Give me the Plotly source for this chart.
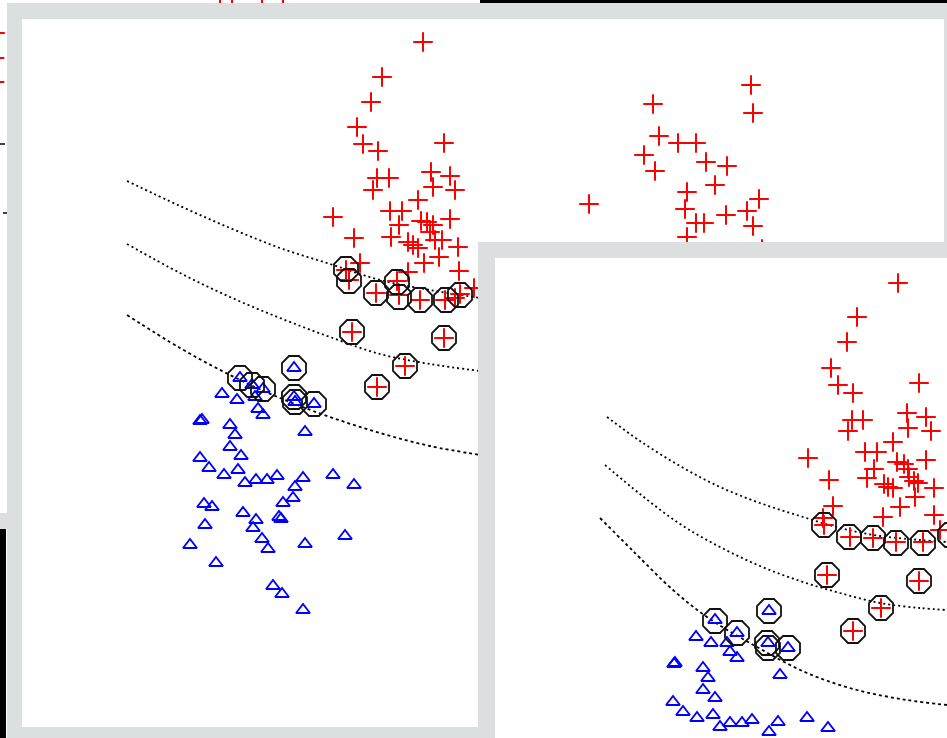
import plotly.graph_objects as go

W, H = 947, 738

# ---------------- data (feature space of each view) ----------------
# Main view (left)
a_pos_x = [4.01, 3.60, 3.49, 3.35, 3.41, 3.56, 4.22, 3.55, 3.67, 3.51, 4.09, 4.28, 4.11, 4.33,
           3.96, 3.11, 3.68, 3.80, 3.77, 3.69, 3.99, 4.05, 4.11, 4.28, 3.32, 3.86, 3.91, 3.96,
           4.08, 4.13, 4.20, 4.36, 4.17, 4.02, 4.37, 3.38, 3.86, 4.52,
           3.24, 3.27, 3.54, 3.75, 3.77, 3.98, 4.23, 4.38, 4.33, 3.30, 4.22, 3.83, 3.55]
a_pos_y = [6.85, 6.50, 6.25, 6.00, 5.83, 5.76, 5.84, 5.49, 5.49, 5.37, 5.55, 5.51, 5.40, 5.37,
           5.27, 5.10, 5.16, 5.16, 5.02, 4.90, 5.06, 5.05, 5.02, 5.08, 4.89, 4.85, 4.82, 4.79,
           4.95, 4.87, 4.87, 4.80, 4.70, 4.64, 4.56, 4.64, 4.55, 4.39,
           4.57, 4.47, 4.34, 4.46, 4.32, 4.27, 4.27, 4.33, 4.29, 3.95, 3.89, 3.61, 3.40]
a_neg_x = [2.18, 2.30, 2.41, 2.72, 2.72, 2.73, 2.92,
           2.00, 2.15, 2.33, 2.36, 2.41, 1.80, 1.78, 2.08, 2.13, 2.83, 2.08, 2.19, 1.78, 1.87,
           2.02, 2.16, 2.23, 2.34, 2.45, 2.55, 2.73, 2.81, 3.11, 3.32, 2.71, 2.61, 1.82, 1.90,
           2.21, 2.57, 2.59, 2.34, 2.31, 1.83, 2.40, 2.46, 1.68, 2.83, 3.23, 1.94, 2.51, 2.60, 2.81]
a_neg_y = [3.49, 3.42, 3.38, 3.59, 3.30, 3.25, 3.23,
           3.33, 3.27, 3.30, 3.18, 3.12, 3.07, 3.06, 3.02, 2.92, 2.95, 2.80, 2.71, 2.69, 2.59,
           2.52, 2.57, 2.44, 2.47, 2.47, 2.51, 2.40, 2.49, 2.52, 2.42, 2.29, 2.24, 2.23, 2.20,
           2.14, 2.10, 2.08, 2.07, 1.99, 2.02, 1.88, 1.78, 1.82, 1.83, 1.91, 1.64, 1.41, 1.33, 1.17]
a_sv_x = [3.24, 3.27, 3.54, 3.75, 3.77, 3.98, 4.24, 4.38, 3.30, 4.22, 3.83, 3.55,
          2.18, 2.30, 2.41, 2.72, 2.72, 2.73, 2.92]
a_sv_y = [4.58, 4.46, 4.34, 4.45, 4.30, 4.27, 4.27, 4.32, 3.95, 3.89, 3.61, 3.40,
          3.49, 3.42, 3.38, 3.59, 3.30, 3.25, 3.23]
a_curve_x = [1.05, 1.58, 2.08, 2.58, 3.08, 3.58, 4.08, 4.58]
a_margin_hi = [5.46, 5.21, 4.99, 4.79, 4.63, 4.47, 4.37, 4.29]
a_boundary = [4.83, 4.54, 4.30, 4.09, 3.90, 3.73, 3.63, 3.56]
a_margin_lo = [4.12, 3.79, 3.52, 3.29, 3.10, 2.94, 2.81, 2.72]

# Upper-right view
b_pos_x = [2.73, 2.75, 1.75, 1.81, 2.00, 2.18, 1.66, 1.77, 2.28, 2.49, 2.37, 2.09, 1.11,
           2.07, 2.81, 2.69, 2.75, 2.48, 2.18, 2.26, 2.09, 2.84]
b_pos_y = [1.57, 1.29, 1.38, 1.06, 0.99, 0.99, 0.87, 0.71, 0.80, 0.76, 0.57, 0.50, 0.38,
           0.33, 0.43, 0.31, 0.16, 0.27, 0.19, 0.19, 0.05, -0.07]

# Lower-right view
c_pos_x = [4.03, 3.62, 3.52, 3.36, 3.43, 3.58, 4.24, 3.57, 3.68, 3.53, 4.12, 4.31, 4.13, 4.36,
           3.98, 3.13, 3.70, 3.82, 3.79, 3.72, 4.02, 4.09, 4.13, 4.31, 3.34, 3.89, 3.93, 3.98,
           4.14, 4.19, 4.23, 4.39, 4.20, 4.05, 3.38, 3.88, 4.39, 3.28, 4.45,
           3.29, 3.55, 3.78, 4.01, 4.28, 3.32, 4.24, 3.86, 3.58]
c_pos_y = [4.55, 4.21, 3.96, 3.70, 3.53, 3.45, 3.55, 3.18, 3.18, 3.07, 3.25, 3.21, 3.10, 3.07,
           2.96, 2.80, 2.86, 2.86, 2.69, 2.60, 2.76, 2.74, 2.69, 2.78, 2.58, 2.54, 2.51, 2.50,
           2.61, 2.57, 2.55, 2.50, 2.41, 2.31, 2.32, 2.21, 2.23, 2.20, 2.08,
           2.13, 2.01, 2.00, 1.96, 1.96, 1.63, 1.57, 1.30, 1.07]
c_neg_x = [2.20, 2.01, 2.16, 2.32, 2.42, 2.35, 2.42, 2.73, 2.74, 2.93, 2.85, 1.80, 1.79, 2.08,
           2.13, 2.08, 2.20, 1.78, 1.88, 2.02, 2.18, 2.25, 2.35, 2.47, 2.57, 2.83, 2.74, 3.12, 3.33]
c_neg_y = [1.18, 1.01, 0.95, 0.95, 1.05, 0.86, 0.80, 0.95, 1.27, 0.90, 0.63, 0.75, 0.74, 0.70,
           0.60, 0.48, 0.40, 0.36, 0.26, 0.20, 0.23, 0.11, 0.15, 0.15, 0.18, 0.16, 0.06, 0.20, 0.10]
c_sv_x = [3.29, 3.54, 3.78, 4.01, 4.28, 4.55, 3.32, 4.24, 3.86, 3.58,
          2.20, 2.42, 2.74, 2.72, 2.73, 2.93]
c_sv_y = [2.13, 2.01, 2.00, 1.95, 1.95, 2.03, 1.63, 1.57, 1.30, 1.07,
          1.17, 1.05, 1.27, 0.95, 0.90, 0.90]
c_curve_x = [1.12, 1.45, 1.85, 2.25, 2.65, 3.05, 3.45, 3.85, 4.25, 4.52]
c_margin_hi = [3.21, 2.97, 2.72, 2.51, 2.35, 2.22, 2.10, 2.02, 1.98, 1.96]
c_boundary_x = [1.10, 1.45, 1.85, 2.25, 2.65, 3.05, 3.45, 3.85, 4.25, 4.52]
c_boundary = [2.73, 2.44, 2.14, 1.91, 1.72, 1.57, 1.45, 1.35, 1.30, 1.28]
c_lo_x = [1.05, 1.32, 1.45, 1.78, 2.12, 2.62, 3.12, 3.62, 4.12, 4.52]
c_margin_lo = [2.20, 1.93, 1.80, 1.48, 1.21, 0.91, 0.65, 0.48, 0.38, 0.33]

# Window behind the others (only thin edges show)
d_pos_x = [1.98, 2.10, 2.40, 2.61]
d_pos_y = [0.09, 0.08, 0.04, 0.08]
e_pos_x = [-0.05, -0.055, -0.055]
e_pos_y = [4.80, 4.55, 4.31]

FRAME = "#dcdfe0"
RED = "#ff0000"
BLUE = "#0000ff"


def fx(p):
    return p / W


def fy(p):
    return 1 - p / H


def rect(x0, y0, x1, y1, color):
    return dict(type="rect", xref="paper", yref="paper", layer="below",
                x0=fx(x0), x1=fx(x1), y0=fy(y1), y1=fy(y0),
                fillcolor=color, line=dict(width=0))


def hline(x0, x1, y, color="#000000"):
    return dict(type="line", xref="paper", yref="paper", layer="below",
                x0=fx(x0), x1=fx(x1), y0=fy(y), y1=fy(y),
                line=dict(color=color, width=1.5))


fig = go.Figure()


def pos(x, y, ax):
    fig.add_trace(go.Scatter(x=x, y=y, mode="markers", xaxis="x" + ax, yaxis="y" + ax,
                             marker=dict(symbol="cross-thin", size=14, color=RED,
                                         line=dict(color=RED, width=2)),
                             showlegend=False, hoverinfo="skip"))


def neg(x, y, ax):
    fig.add_trace(go.Scatter(x=x, y=y, mode="markers", xaxis="x" + ax, yaxis="y" + ax,
                             marker=dict(symbol="triangle-up-open", size=12, color=BLUE,
                                         line=dict(color=BLUE, width=1.9)),
                             showlegend=False, hoverinfo="skip"))


def sv(x, y, ax):
    fig.add_trace(go.Scatter(x=x, y=y, mode="markers", xaxis="x" + ax, yaxis="y" + ax,
                             marker=dict(symbol="octagon-open", size=26, color="#111111",
                                         line=dict(color="#111111", width=1.8)),
                             showlegend=False, hoverinfo="skip"))


def curve(x, y, ax, dash):
    fig.add_trace(go.Scatter(x=x, y=y, mode="lines", xaxis="x" + ax, yaxis="y" + ax,
                             line=dict(color="#000000", width=1.8, dash=dash, shape="spline"),
                             showlegend=False, hoverinfo="skip"))


# main view
curve(a_curve_x, a_margin_hi, "", "2px,3px")
curve(a_curve_x, a_boundary, "", "2px,3px")
curve(a_curve_x, a_margin_lo, "", "3px,3px")
neg(a_neg_x, a_neg_y, "")
pos(a_pos_x, a_pos_y, "")
sv(a_sv_x, a_sv_y, "")

# upper-right view
pos(b_pos_x, b_pos_y, "2")

# lower-right view
curve(c_curve_x, c_margin_hi, "3", "2px,3px")
curve(c_boundary_x, c_boundary, "3", "2px,3px")
curve(c_lo_x, c_margin_lo, "3", "3px,3px")
neg(c_neg_x, c_neg_y, "3")
pos(c_pos_x, c_pos_y, "3")
sv(c_sv_x, c_sv_y, "3")

# edges of the window behind
pos(d_pos_x, d_pos_y, "4")
pos(e_pos_x, e_pos_y, "5")


def axis_pair(x0, x1, y0, y1, xr, yr, idx):
    xa = dict(domain=[fx(x0), fx(x1)], range=xr, visible=False, fixedrange=True)
    ya = dict(domain=[fy(y1), fy(y0)], range=yr, visible=False, fixedrange=True)
    sx = "xaxis" if idx == "" else "xaxis" + idx
    sy = "yaxis" if idx == "" else "yaxis" + idx
    xa["anchor"] = "y" + idx
    ya["anchor"] = "x" + idx
    return {sx: xa, sy: ya}


layout = dict(
    width=W, height=H, margin=dict(l=0, r=0, t=0, b=0),
    paper_bgcolor="#ffffff", plot_bgcolor="rgba(0,0,0,0)",
    shapes=[
        rect(0, 513, 7, 529, FRAME),
        rect(0, 529, 6, 738, "#000000"),
        rect(480, 0, 947, 3, "#000000"),
        hline(0, 5, 144),
        hline(3, 7, 213),
        rect(7, 3, 495, 738, FRAME),
        rect(22, 19, 478, 727, "#ffffff"),
        rect(478, 3, 947, 258, FRAME),
        rect(478, 19, 944, 242, "#ffffff"),
        rect(478, 242, 947, 738, FRAME),
        rect(495, 258, 947, 738, "#ffffff"),
    ],
)
layout.update(axis_pair(22, 478, 19, 727, [0, 4.56], [0, 7.08], ""))
layout.update(axis_pair(478, 944, 19, 242, [0, 4.66], [0, 2.23], "2"))
layout.update(axis_pair(495, 947, 258, 738, [0, 4.52], [0, 4.80], "3"))
layout.update(axis_pair(22, 478, 0, 3, [0, 4.56], [0, 0.03], "4"))
layout.update(axis_pair(0, 7, 19, 513, [0, 0.07], [0, 4.94], "5"))

fig.update_layout(**layout)
fig.write_html("out.html")
